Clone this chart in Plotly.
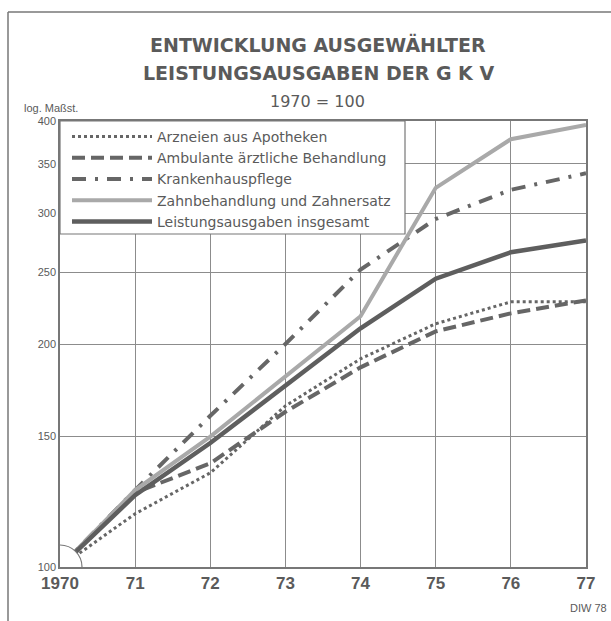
import plotly.graph_objects as go
import math

years = [1970, 1971, 1972, 1973, 1974, 1975, 1976, 1977]
year_labels = ["1970", "71", "72", "73", "74", "75", "76", "77"]

arzneien = [100, 118, 134, 165, 191, 213, 228, 228]
ambulant = [100, 126, 138, 162, 186, 208, 220, 229]
krankenhaus = [100, 127, 160, 200, 252, 295, 323, 340]
zahn = [100, 127, 150, 181, 218, 325, 378, 395]
insgesamt = [100, 125, 147, 176, 210, 245, 266, 276]

y_ticks = [100, 150, 200, 250, 300, 350, 400]

names = [
    "Arzneien aus Apotheken",
    "Ambulante ärztliche Behandlung",
    "Krankenhauspflege",
    "Zahnbehandlung und Zahnersatz",
    "Leistungsausgaben insgesamt",
]

W, H = 611, 621
L, R, T, B = 60, 25, 121, 54
PW, PH = W - L - R, H - T - B

def px(x):
    return (x - L) / PW

def py(y):
    return (H - B - y) / PH

def xdata(x):
    return 1970 + px(x) * 7

def ydata(y):
    return 100 * 10 ** (py(y) * math.log10(4))

TXT = "#5a5a5a"
GRID = "#8c8c8c"

fig = go.Figure()
fig.add_trace(go.Scatter(x=years, y=arzneien, name=names[0], mode="lines",
                         line=dict(color="#666666", width=3, dash="dot")))
fig.add_trace(go.Scatter(x=years, y=ambulant, name=names[1], mode="lines",
                         line=dict(color="#666666", width=4, dash="13px,6px")))
fig.add_trace(go.Scatter(x=years, y=krankenhaus, name=names[2], mode="lines",
                         line=dict(color="#666666", width=4, dash="14px,9px,3px,9px")))
fig.add_trace(go.Scatter(x=years, y=zahn, name=names[3], mode="lines",
                         line=dict(color="#a9a9a9", width=4)))
fig.add_trace(go.Scatter(x=years, y=insgesamt, name=names[4], mode="lines",
                         line=dict(color="#5e5e5e", width=4.5)))

# legend frame (white box over the grid, below the data)
fig.add_shape(type="rect", xref="x", yref="y",
              x0=1970, x1=xdata(405), y0=ydata(234), y1=400,
              line=dict(color="#777777", width=1.2), fillcolor="white", layer="between")

r_year = 22 / (PW / 7)
r_log = 22 / (PH / math.log10(4))
fig.add_shape(type="circle", xref="x", yref="y",
              x0=1970 - r_year, x1=1970 + r_year,
              y0=100 * 10 ** (-r_log), y1=100 * 10 ** (r_log),
              line=dict(color="#777777", width=1.2), fillcolor="white", layer="above")

# page frame (left and top rules)
fig.add_shape(type="line", xref="paper", yref="paper",
              x0=px(8), x1=px(611), y0=py(12), y1=py(12),
              line=dict(color="#777777", width=1.5))
fig.add_shape(type="line", xref="paper", yref="paper",
              x0=px(8), x1=px(8), y0=py(12), y1=py(621),
              line=dict(color="#777777", width=1.5))

ann = [
    dict(text="<b>ENTWICKLUNG AUSGEWÄHLTER</b>", x=px(318), y=py(45), size=19, fam="DejaVu Sans"),
    dict(text="<b>LEISTUNGSAUSGABEN DER G K V</b>", x=px(318), y=py(73), size=19, fam="DejaVu Sans"),
    dict(text="1970 = 100", x=px(317), y=py(101), size=16, fam="DejaVu Sans"),
]
for a in ann:
    fig.add_annotation(text=a["text"], x=a["x"], y=a["y"], xref="paper", yref="paper",
                       showarrow=False, xanchor="center", yanchor="middle",
                       font=dict(family=a["fam"], size=a["size"], color=TXT))
fig.add_annotation(text="log. Maßst.", x=px(22), y=py(108), xref="paper", yref="paper",
                   showarrow=False, xanchor="left", yanchor="middle",
                   font=dict(family="Liberation Sans", size=11, color=TXT))
fig.add_annotation(text="DIW 78", x=px(609), y=py(608), xref="paper", yref="paper",
                   showarrow=False, xanchor="right", yanchor="middle",
                   font=dict(family="Liberation Sans", size=11, color=TXT))

fig.update_layout(
    width=W, height=H,
    margin=dict(l=L, r=R, t=T, b=B),
    paper_bgcolor="white", plot_bgcolor="white",
    showlegend=True,
    legend=dict(x=px(67), y=1, xanchor="left", yanchor="top",
                bgcolor="rgba(0,0,0,0)", borderwidth=0,
                itemwidth=80, tracegroupgap=0,
                font=dict(family="DejaVu Sans", size=14, color=TXT)),
    xaxis=dict(range=[1970, 1977], tickvals=years,
               ticktext=["<b>" + t + "</b>" for t in year_labels],
               showgrid=True, gridcolor=GRID, gridwidth=1,
               showline=True, linecolor="#777777", linewidth=1.5, mirror=True,
               ticks="", zeroline=False,
               tickfont=dict(family="Liberation Sans", size=17, color=TXT)),
    yaxis=dict(type="log", range=[2, math.log10(400)],
               tickvals=y_ticks, ticktext=[str(v) for v in y_ticks],
               showgrid=True, gridcolor=GRID, gridwidth=1,
               showline=True, linecolor="#777777", linewidth=1.5, mirror=True,
               ticks="", zeroline=False,
               tickfont=dict(family="Liberation Sans", size=11, color=TXT)),
)

fig.write_html("out.html",
               config={"displayModeBar": False},
               post_script="document.body.style.margin='0';"
                           "document.body.style.overflow='hidden';")
